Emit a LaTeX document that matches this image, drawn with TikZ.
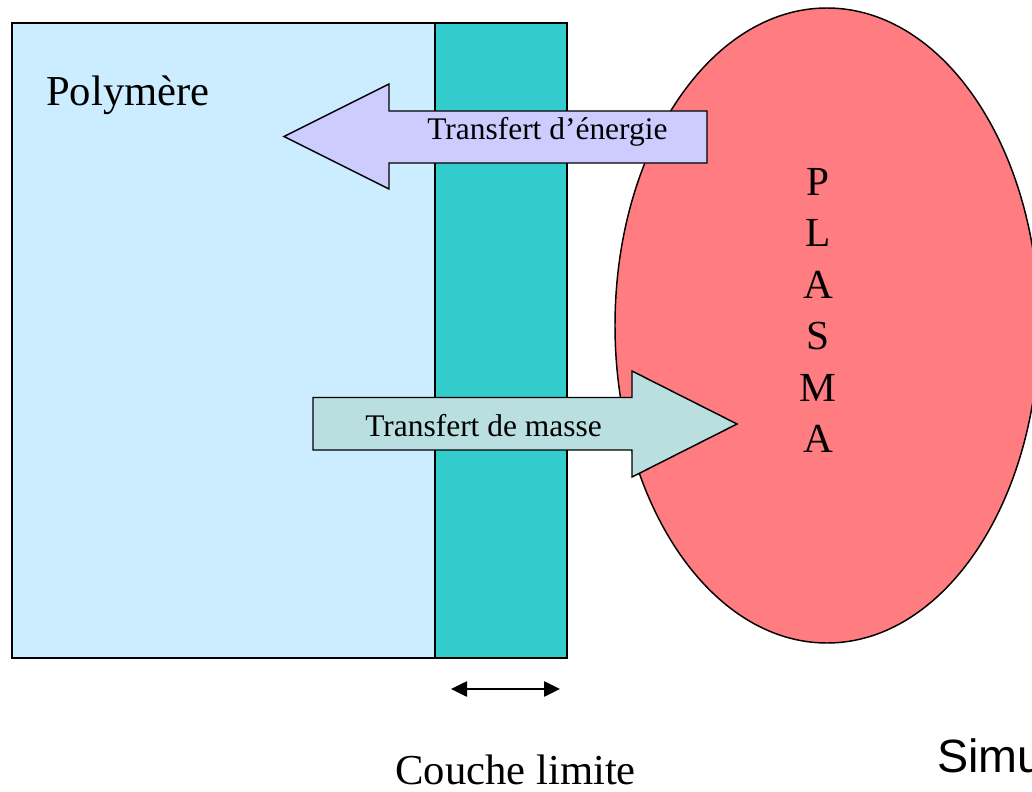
\documentclass[tikz,border=0pt]{standalone}
\usepackage{fontspec}
\setmainfont{Liberation Serif}
\newfontfamily\simufont{Liberation Sans}
\usetikzlibrary{arrows.meta}
\definecolor{polyblue}{HTML}{CCECFF}
\definecolor{teal33}{HTML}{33CCCC}
\definecolor{plasmared}{HTML}{FF7C80}
\definecolor{energyviolet}{HTML}{CCCCFF}
\definecolor{massteal}{HTML}{B9DFE1}
\tikzset{
  shape outline/.style={draw=black, line width=1.1pt, line join=miter},
  label text/.style={inner sep=0pt, anchor=base west, text=black},
}
\begin{document}
\begin{tikzpicture}[x=0.75pt,y=-0.75pt]
\useasboundingbox (0,0) rectangle (1032,792);
\clip (0,0) rectangle (1032,792);
% polymer block and boundary layer
\draw[shape outline, fill=polyblue] (12,23) rectangle (435,658);
\draw[shape outline, fill=teal33] (435,23) rectangle (567,658);
% plasma
\draw[shape outline, fill=plasmared] (827,325.5) ellipse [x radius=212, y radius=317.5];
% energy transfer arrow (pointing left)
\draw[shape outline, fill=energyviolet]
  (707,111) -- (389,111) -- (389,84) -- (284,136.5) -- (389,189) -- (389,163) -- (707,163) -- cycle;
% mass transfer arrow (pointing right)
\draw[shape outline, fill=massteal]
  (313,397.5) -- (632,397.5) -- (632,371) -- (737,424) -- (632,477) -- (632,450) -- (313,450) -- cycle;
% texts
\node[label text, font=\fontsize{32}{36}\selectfont] (poly) at (46,105) {Polymère};
\node[label text, font=\fontsize{23.6}{28}\selectfont] (energy) at (427,139) {Transfert d’énergie};
\node[label text, font=\fontsize{23.6}{28}\selectfont] (mass) at (365,436) {Transfert de masse};
\node[label text, font=\fontsize{32}{36}\selectfont] (couche) at (395,784) {Couche limite};
\node[label text, font=\fontsize{35}{40}\simufont] (simu) at (937,772) {Simu};
\foreach \l/\yy [count=\i] in {P/195, L/246.5, A/298, S/349.5, M/401, A/452.5}{
  \node[inner sep=0pt, anchor=base, font=\fontsize{31}{36}\selectfont] (plasma\i) at (818,\yy) {\l};
}
% boundary layer thickness arrow
\coordinate (thickL) at (451,689);
\coordinate (thickR) at (560,689);
\draw[line width=1.1pt, {Triangle[length=12pt,width=11.5pt]}-{Triangle[length=12pt,width=11.5pt]}] (thickL) -- (thickR);
\end{tikzpicture}
\end{document}
